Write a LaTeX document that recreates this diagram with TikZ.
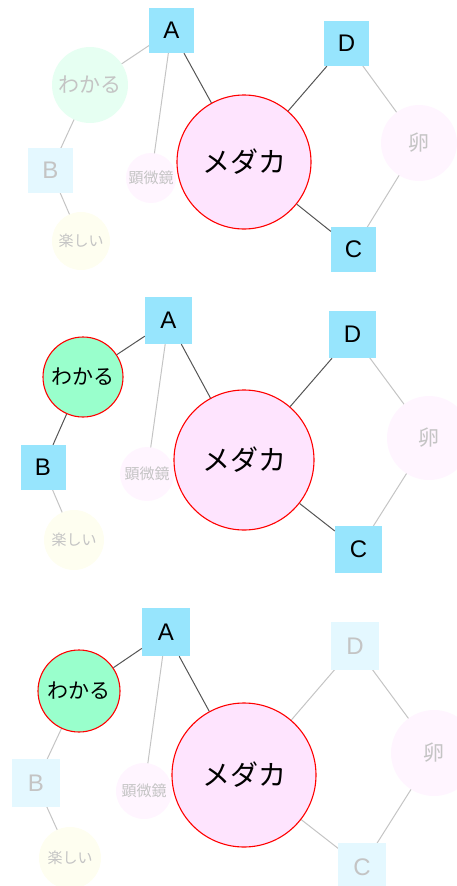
\documentclass[tikz,border=0pt]{standalone}
\usepackage{fontspec}
\setmainfont{Liberation Sans}
\newfontfamily\jpfont{Noto Sans CJK JP}

\definecolor{keyblue}{HTML}{97E5FD}
\definecolor{keypale}{HTML}{E4F8FF}
\definecolor{mint}{HTML}{99FFCC}
\definecolor{mintpale}{HTML}{E6FFF2}
\definecolor{fishpink}{HTML}{FEE4FE}
\definecolor{pinkpale}{HTML}{FFF5FF}
\definecolor{yellowpale}{HTML}{FEFEF0}
\definecolor{fadetext}{HTML}{C4C4C4}
\definecolor{linkdark}{HTML}{555555}
\definecolor{linklight}{HTML}{C4C4C4}

\tikzset{
    key/.style={rectangle, fill=keyblue, inner sep=0pt, minimum size=#1,
        font=\fontsize{24}{26}\selectfont},
    keyfade/.style={key=#1, fill=keypale, text=fadetext},
    bubble/.style={circle, inner sep=0pt, minimum size=#1, font=\jpfont\fontsize{21}{24}\selectfont},
    medaka/.style={bubble=#1, draw=red, line width=1.1pt, fill=fishpink,
        font=\jpfont\fontsize{28}{30}\selectfont},
    wakaru/.style={bubble=#1, draw=red, line width=1.1pt, fill=mint},
    wakarufade/.style={bubble=#1, fill=mintpale, text=fadetext},
    pinkfade/.style={bubble=#1, fill=pinkpale, text=fadetext},
    smallfade/.style={bubble=#1, text=fadetext, font=\jpfont\fontsize{15}{16}\selectfont},
    strong/.style={draw=linkdark, line width=1pt},
    weak/.style={draw=linklight, line width=1pt}
}

\begin{document}
\begin{tikzpicture}[x=1pt,y=-1pt]
    \useasboundingbox (0,0) rectangle (457,886);

    % first state
    \draw[weak]   (171.5,30.5) -- (90,85);
    \draw[weak]   (90,85) -- (50.5,170.5);
    \draw[weak]   (50.5,170.5) -- (81,241);
    \draw[weak]   (171.5,30.5) -- (151,178);
    \draw[weak]   (346.5,43.5) -- (419,143);
    \draw[weak]   (419,143) -- (353.5,249.5);
    \node[wakarufade=76]                  (wk1) at (90,85)      {わかる};
    \node[smallfade=58, fill=yellowpale]  (tn1) at (81,241)     {楽しい};
    \node[smallfade=50, fill=pinkpale]    (kb1) at (151,178)    {顕微鏡};
    \node[pinkfade=76]                    (tm1) at (419,143)    {卵};
    \node[medaka=134]                     (md1) at (244,162)    {メダカ};
    \node[key=45]                         (a1)  at (171.5,30.5) {A};
    \node[keyfade=45]                     (b1)  at (50.5,170.5) {B};
    \node[key=45]                         (d1)  at (346.5,43.5) {D};
    \node[key=45]                         (c1)  at (353.5,249.5) {C};
    \draw[strong] (a1) -- (md1);
    \draw[strong] (d1) -- (md1);
    \draw[strong] (md1) -- (c1);

    % second state
    \draw[weak]   (168.5,320.5) -- (147,474);
    \draw[weak]   (43,467.5) -- (74,540);
    \draw[weak]   (352.5,334.5) -- (429,438);
    \draw[weak]   (429,438) -- (358.5,549.5);
    \node[smallfade=60, fill=yellowpale]  (tn2) at (74,540)     {楽しい};
    \node[smallfade=54, fill=pinkpale]    (kb2) at (147,474)    {顕微鏡};
    \node[pinkfade=84]                    (tm2) at (429,438)    {卵};
    \node[wakaru=80]                      (wk2) at (83,377)     {わかる};
    \node[medaka=140]                     (md2) at (244,460)    {メダカ};
    \node[key=47]                         (a2)  at (168.5,320.5) {A};
    \node[key=45]                         (b2)  at (43,467.5)   {B};
    \node[key=47]                         (d2)  at (352.5,334.5) {D};
    \node[key=47]                         (c2)  at (358.5,549.5) {C};
    \draw[strong] (a2) -- (wk2);
    \draw[strong] (wk2) -- (b2);
    \draw[strong] (a2) -- (md2);
    \draw[strong] (d2) -- (md2);
    \draw[strong] (md2) -- (c2);

    % third state
    \draw[weak]   (166,632) -- (144,791);
    \draw[weak]   (36,783) -- (70,858);
    \draw[weak]   (355,646) -- (434,753);
    \draw[weak]   (434,753) -- (362,867);
    \draw[weak]   (355,646) -- (244,775);
    \draw[weak]   (244,775) -- (362,867);
    \draw[weak]   (79,691) -- (36,783);
    \node[smallfade=62, fill=yellowpale]  (tn3) at (70,858)     {楽しい};
    \node[smallfade=56, fill=pinkpale]    (kb3) at (144,791)    {顕微鏡};
    \node[pinkfade=86]                    (tm3) at (434,753)    {卵};
    \node[wakaru=82]                      (wk3) at (79,691)     {わかる};
    \node[medaka=144]                     (md3) at (244,775)    {メダカ};
    \node[key=48]                         (a3)  at (166,632)    {A};
    \node[keyfade=48]                     (b3)  at (36,783)     {B};
    \node[keyfade=48]                     (d3)  at (355,646)    {D};
    \node[keyfade=48]                     (c3)  at (362,867)    {C};
    \draw[strong] (a3) -- (wk3);
    \draw[strong] (a3) -- (md3);
\end{tikzpicture}
\end{document}
